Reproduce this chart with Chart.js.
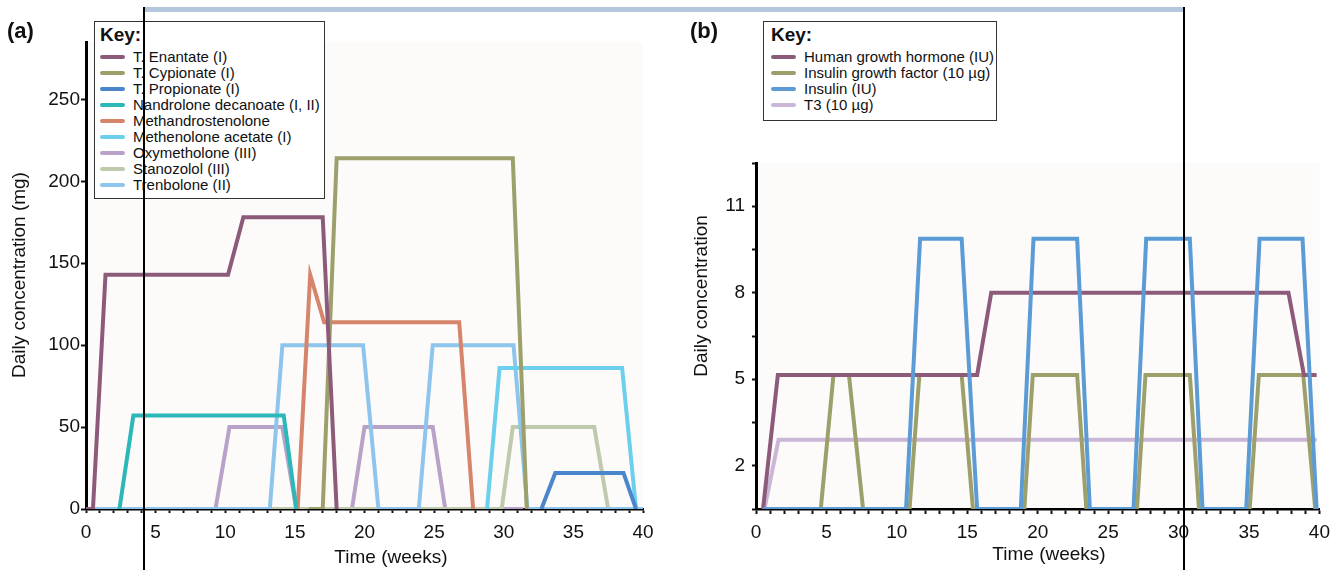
<!DOCTYPE html>
<html>
<head>
<meta charset="utf-8">
<title>Daily concentration over time</title>
<script src="https://cdn.jsdelivr.net/npm/chart.js@4.4.1/dist/chart.umd.min.js"></script>
<style>
  body { margin: 0; background: #fff; font-family: 'Liberation Sans', Arial, Helvetica, sans-serif; color: #111; }
  #page { position: relative; width: 1337px; height: 570px; overflow: hidden; }
  .panel { position: absolute; top: 0; }
  .tag { position: absolute; top: 18px; font-size: 22px; font-weight: bold; line-height: 26px; }
  .key { position: absolute; top: 21px; border: 1px solid #333; background: #fff; box-sizing: border-box; padding: 2px 0 0 5px; z-index: 5; }
  .key h4 { margin: 0 0 3px 0; font-size: 19px; line-height: 22px; font-weight: bold; }
  .key .item { display: flex; align-items: center; height: 16px; font-size: 15px; line-height: 16px; white-space: nowrap; }
  .key .swatch { width: 25px; height: 4px; border-radius: 2px; margin-right: 8px; flex: none; }
  .axis-title { position: absolute; font-size: 19px; line-height: 22px; white-space: nowrap; transform: translate(-50%, -50%); }
  .axis-title.vertical { transform: translate(-50%, -50%) rotate(-90deg); }
  .mark { position: absolute; z-index: 10; }
</style>
</head>
<body>
<div id="page">
  <canvas id="chartA" class="panel" style="left:0" width="668" height="570"></canvas>
  <canvas id="chartB" class="panel" style="left:668px" width="669" height="570"></canvas>

  <div class="tag" style="left:7px">(a)</div>
  <div class="tag" style="left:690px">(b)</div>

  <div class="key" id="keyA" style="left:94px;width:231px;height:178px"></div>
  <div class="key" id="keyB" style="left:763px;width:234px;height:100px;padding-left:7px"></div>

  <div class="axis-title vertical" style="left:19px;top:275px">Daily concentration (mg)</div>
  <div class="axis-title" style="left:391px;top:557px">Time (weeks)</div>
  <div class="axis-title vertical" style="left:701px;top:296px">Daily concentration</div>
  <div class="axis-title" style="left:1049px;top:554px">Time (weeks)</div>

  <div class="mark" style="left:145px;top:7px;width:1038px;height:5px;background:#b4c6dc"></div>
  <div class="mark" style="left:143px;top:7px;width:2px;height:563px;background:#000"></div>
  <div class="mark" style="left:1183px;top:7px;width:2px;height:563px;background:#000"></div>
</div>

<script>
// ---- panel (a): steroids, [week, mg per day] ----
const tEnantate = [[0, 0], [0.5, 0], [1.4, 143], [10.2, 143], [11.3, 178], [17, 178], [18, 0]];
const tCypionate = [[16, 0], [17, 0], [18, 214], [30.65, 214], [31.65, 0]];
const tPropionate = [[32.7, 0], [33.7, 22], [38.6, 22], [39.5, 0]];
const nandrolone = [[2.4, 0], [3.4, 57], [14.2, 57], [15.1, 0]];
const methandrostenolone = [[15.2, 0], [16.1, 143], [17.1, 114], [26.8, 114], [27.8, 0]];
const methenolone = [[28.8, 0], [29.7, 86], [38.5, 86], [39.5, 0]];
const oxymetholone = [[9.3, 0], [10.3, 50], [14.1, 50], [15.1, 0], [19.1, 0], [20, 50], [24.9, 50], [25.8, 0], [31.4, 0]];
const stanozolol = [[13.3, 0], [29.85, 0], [30.65, 50], [36.5, 50], [37.5, 0]];
const trenbolone = [[0, 0], [13.2, 0], [14.1, 100], [19.9, 100], [21, 0], [23.9, 0], [24.9, 100], [30.7, 100], [31.7, 0], [40, 0]];

// ---- panel (b): peptides / hormones, [week, daily amount] ----
const hgh = [[0.5, 0.5], [1.55, 5.15], [15.7, 5.15], [16.7, 8], [37.8, 8], [38.9, 5.15], [39.8, 5.15]];
const igf = [[0.5, 0.5], [4.6, 0.5], [5.5, 5.15], [6.6, 5.15], [7.6, 0.5], [10.9, 0.5], [11.6, 5.15], [14.6, 5.15], [15.4, 0.5],
  [19.05, 0.5], [19.65, 5.15], [22.8, 5.15], [23.45, 0.5], [27.05, 0.5], [27.65, 5.15], [30.8, 5.15], [31.45, 0.5],
  [35.05, 0.5], [35.7, 5.15], [38.85, 5.15], [39.7, 0.5]];
const insulin = [[0.5, 0.5], [10.65, 0.5], [11.65, 9.87], [14.6, 9.87], [15.7, 0.5], [18.8, 0.5], [19.7, 9.87], [22.8, 9.87],
  [23.7, 0.5], [26.8, 0.5], [27.7, 9.87], [30.8, 9.87], [31.7, 0.5], [34.8, 0.5], [35.75, 9.87], [38.8, 9.87], [39.8, 0.5]];
const t3 = [[0.6, 0.5], [1.6, 2.9], [39.8, 2.9]];

// ---- axes ----
const weekRange = [0, 40];
const aYTicks = [0, 50, 100, 150, 200, 250];
const aYMax = 285;
const bYTicks = [0.5, 2, 3.5, 5, 6.5, 8, 9.5, 11, 12.5];
const bYLabels = [2, 5, 8, 11];

Chart.defaults.font.family = "'Liberation Sans', Arial, Helvetica, sans-serif";
Chart.defaults.color = '#111';

const plotBackground = {
  id: 'plotBackground',
  beforeDraw(chart) {
    const { ctx, chartArea: a } = chart;
    ctx.save();
    ctx.fillStyle = '#fcfbfa';
    ctx.fillRect(a.left, a.top, a.right - a.left, a.bottom - a.top);
    ctx.restore();
  }
};

function toPoints(pairs) {
  return pairs.map(p => ({ x: p[0], y: p[1] }));
}

function series(label, pairs, color, order) {
  return {
    label: label,
    data: toPoints(pairs),
    borderColor: color,
    backgroundColor: color,
    borderWidth: 4,
    pointRadius: 0,
    tension: 0,
    order: order || 0
  };
}

function buildKey(chart, el) {
  let html = '<h4>Key:</h4>';
  chart.data.datasets.forEach(ds => {
    html += `<div class="item"><span class="swatch" style="background:${ds.borderColor}"></span>${ds.label}</div>`;
  });
  el.innerHTML = html;
}

function makeOptions(cfg) {
  return {
    responsive: false,
    animation: false,
    events: [],
    layout: { padding: { top: cfg.top, right: cfg.right, left: 0, bottom: 0 } },
    plugins: { legend: { display: false }, tooltip: { enabled: false } },
    scales: {
      x: {
        type: 'linear',
        min: weekRange[0],
        max: weekRange[1],
        afterFit: scale => { scale.height = 61; },
        border: { color: '#000', width: 2.5 },
        grid: { drawOnChartArea: false, tickLength: cfg.xTickLength, tickWidth: 2, tickColor: '#111' },
        ticks: {
          stepSize: 1,
          autoSkip: false,
          maxRotation: 0,
          padding: cfg.xPad,
          font: { size: 19 },
          callback: v => (v % 5 === 0 ? v : '')
        }
      },
      y: {
        min: cfg.yMin,
        max: cfg.yMax,
        afterFit: scale => { scale.width = cfg.yWidth; },
        afterBuildTicks: scale => { scale.ticks = cfg.yTicks.map(v => ({ value: v })); },
        border: { color: '#000', width: 3 },
        grid: { drawOnChartArea: false, tickLength: cfg.yTickLength, tickWidth: 2, tickColor: '#111' },
        ticks: {
          padding: cfg.yPad,
          font: { size: 19 },
          callback: cfg.yLabel
        }
      }
    }
  };
}

const chartA = new Chart(document.getElementById('chartA'), {
  type: 'line',
  data: {
    datasets: [
      series('T. Enantate (I)', tEnantate, '#8d5b7a'),
      series('T. Cypionate (I)', tCypionate, '#9da06b'),
      series('T. Propionate (I)', tPropionate, '#4a86cb'),
      series('Nandrolone decanoate (I, II)', nandrolone, '#2cb8b8'),
      series('Methandrostenolone', methandrostenolone, '#d6856b'),
      series('Methenolone acetate (I)', methenolone, '#6ccfed'),
      series('Oxymetholone (III)', oxymetholone, '#b8a2c9', 2),
      series('Stanozolol (III)', stanozolol, '#bfcaad', 1),
      series('Trenbolone (II)', trenbolone, '#8ec5ec')
    ]
  },
  options: makeOptions({
    top: 42, right: 25, yWidth: 86,
    yMin: 0, yMax: aYMax, yTicks: aYTicks,
    yTickLength: 5, yPad: 1, xTickLength: 4, xPad: 8,
    yLabel: v => v
  }),
  plugins: [plotBackground]
});

const chartB = new Chart(document.getElementById('chartB'), {
  type: 'line',
  data: {
    datasets: [
      series('Human growth hormone (IU)', hgh, '#8d5b7a'),
      series('Insulin growth factor (10 \u00b5g)', igf, '#9da06b'),
      series('Insulin (IU)', insulin, '#5b9bd6', -1),
      series('T3 (10 \u00b5g)', t3, '#cab6d7', 1)
    ]
  },
  options: makeOptions({
    top: 163, right: 15, yWidth: 88,
    yMin: bYTicks[0], yMax: bYTicks[bYTicks.length - 1], yTicks: bYTicks,
    yTickLength: 4, yPad: 7, xTickLength: 5, xPad: 7,
    yLabel: v => (bYLabels.includes(v) ? v : '')
  }),
  plugins: [plotBackground]
});

buildKey(chartA, document.getElementById('keyA'));
buildKey(chartB, document.getElementById('keyB'));
</script>
</body>
</html>
